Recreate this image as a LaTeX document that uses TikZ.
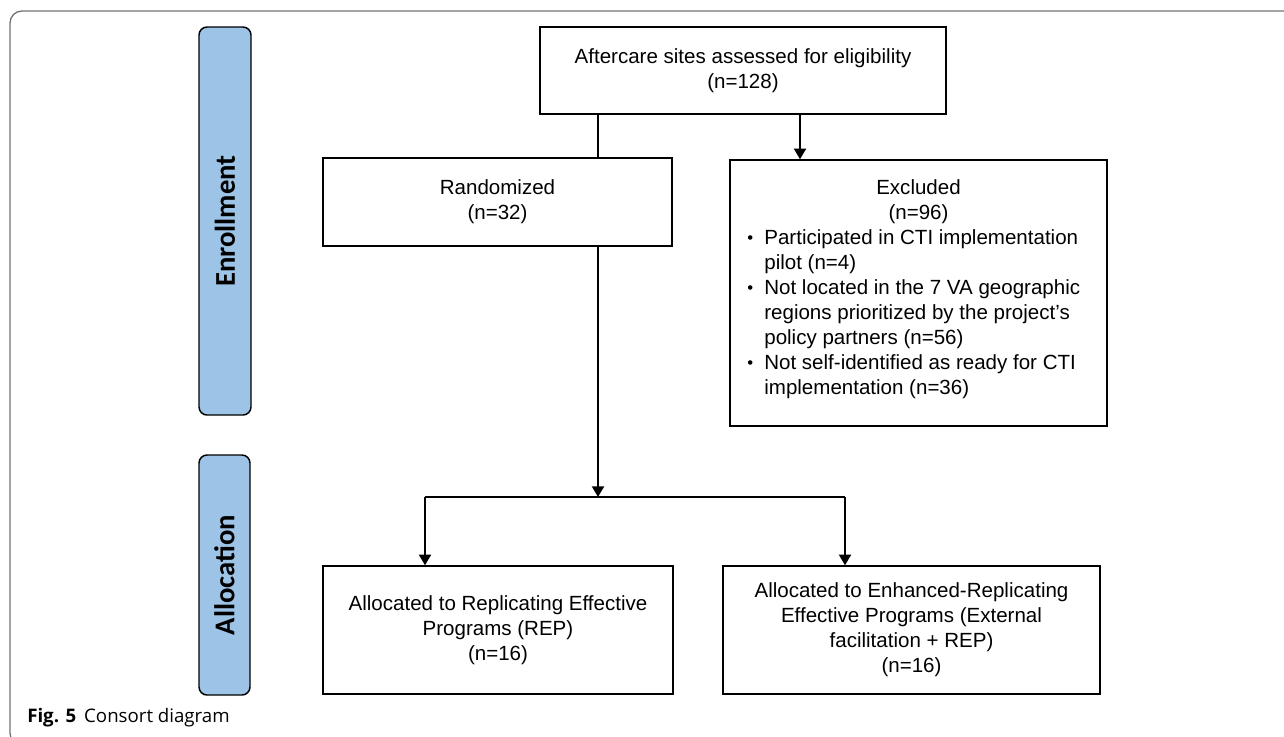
\documentclass[tikz,border=0pt]{standalone}
\usepackage{fontspec}
\setmainfont{Liberation Sans}
\newfontfamily\sidefont{Carlito}
\newfontfamily\capfont{Open Sans}
\usetikzlibrary{arrows.meta}

\definecolor{stageblue}{HTML}{9DC3E6}
\newcommand\bul{\par\hangindent=12.75pt\hangafter=1\noindent\makebox[12.75pt][l]{\raisebox{0.8pt}{\fontsize{12.5}{12.5}\selectfont\textbullet}}}

\tikzset{
  box/.style={draw, line width=1.1pt, align=center, inner sep=0pt, font=\fontsize{15.4}{18.75}\selectfont},
  stage/.style={draw, line width=1.1pt, fill=stageblue, rounded corners=6pt, inner sep=0pt, rotate=90, font=\sidefont\bfseries\fontsize{21.5}{24}\selectfont},
  link/.style={line width=1.5pt},
  arr/.style={link, -{Triangle[width=9pt,length=8pt]}}
}

\begin{document}
\begin{tikzpicture}[x=0.75pt,y=-0.75pt]
\useasboundingbox (0,0) rectangle (1284,736);
\clip (0,0) rectangle (1284,736);
\draw[black!55, line width=1pt, rounded corners=9pt] (1300,11) -| (10,745) -- (1300,745);

\node[stage, minimum width=291pt, minimum height=39pt] (enrol) at (225,221) {Enrollment};
\node[stage, minimum width=180pt, minimum height=38.25pt] (alloc) at (224.5,575) {Allocation};

\node[box, minimum width=304.5pt, minimum height=65.25pt] (assess) at (743,70.5) {Aftercare sites assessed for eligibility\\(n=128)};
\node[box, minimum width=261.75pt, minimum height=66pt] (rand) at (497.5,202) {Randomized\\(n=32)};
\node[box] (excl) at (918.5,293) {\parbox[c][199.5pt][t]{282.75pt}{\vspace*{15pt}\centering Excluded\\(n=96)\par
  \raggedright\leftskip=13pt
  \bul Participated in CTI implementation\newline pilot (n=4)
  \bul Not located in the 7 VA geographic\newline regions prioritized by the project's\newline policy partners (n=56)
  \bul Not self-identified as ready for CTI\newline implementation (n=36)\par}};
\node[box, minimum width=262.5pt, minimum height=96pt] (rep) at (498,630) {Allocated to Replicating Effective\\Programs (REP)\\(n=16)};
\node[box, minimum width=282.75pt, minimum height=96pt] (erep) at (911.5,630) {Allocated to Enhanced-Replicating\\Effective Programs (External\\facilitation + REP)\\(n=16)};

\coordinate (split) at (598,497);
\coordinate (left) at (425,497);
\coordinate (right) at (845,497);
\coordinate (drop) at (800,0);

\draw[link] (assess.south -| split) -- (rand.north -| split);
\draw[arr] (assess.south -| drop) -- (excl.north -| drop);
\draw[arr] (rand.south -| split) -- (split);
\draw[link] (left) -- (right);
\foreach \n/\c in {rep/left, erep/right}
    \draw[arr] (\c) -- (\n.north -| \c);

\node[anchor=base west, inner sep=0pt, font=\capfont\fontsize{14}{16}\selectfont] (caption) at (27,722) {\textbf{Fig. 5}\hspace{6pt}Consort diagram};
\end{tikzpicture}
\end{document}
